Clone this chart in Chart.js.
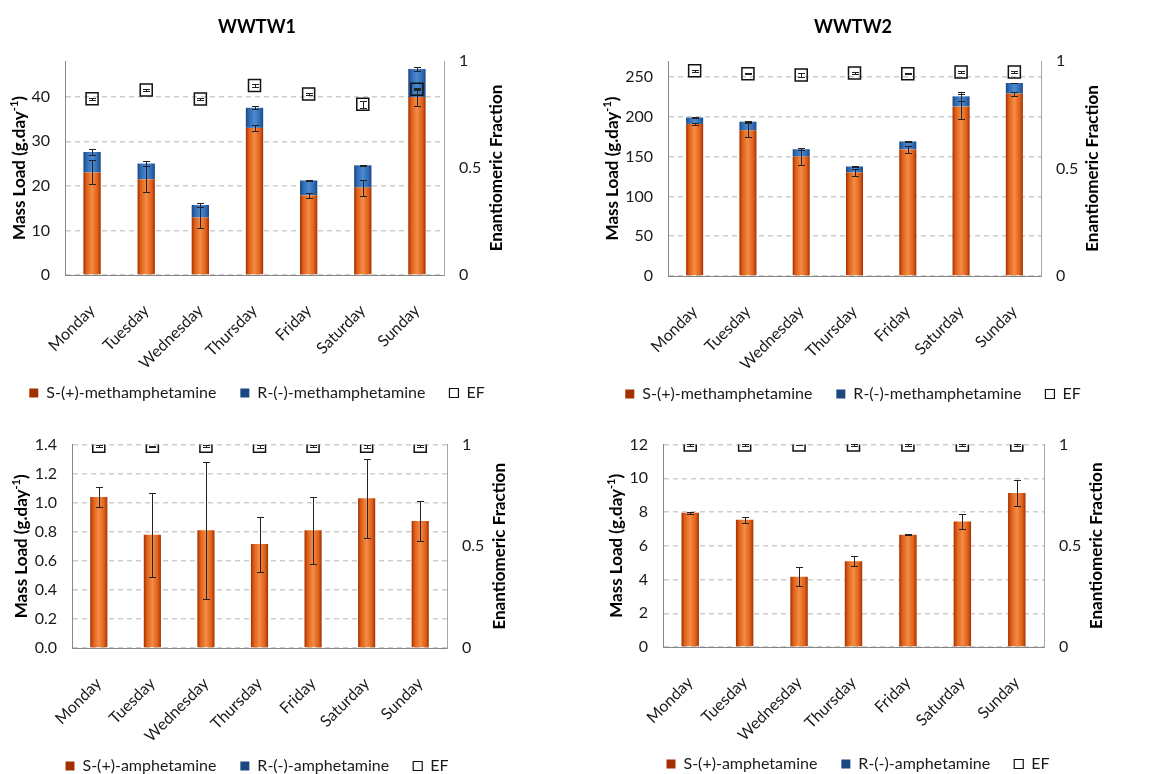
<!DOCTYPE html>
<html>
<head>
<meta charset="utf-8">
<script src="https://cdn.jsdelivr.net/npm/chart.js@4.4.1/dist/chart.umd.min.js"></script>
<style>
  html, body { margin: 0; padding: 0; background: #fff; }
  body { width: 1156px; height: 774px; position: relative; overflow: hidden; }
  canvas { position: absolute; }
</style>
</head>
<body>
<canvas id="c1" width="514" height="412" style="left:0;top:0"></canvas>
<canvas id="c2" width="506" height="412" style="left:600px;top:0"></canvas>
<canvas id="c3" width="514" height="364" style="left:0;top:420px"></canvas>
<canvas id="c4" width="516" height="362" style="left:600px;top:420px"></canvas>
<script>
var days = ['Monday', 'Tuesday', 'Wednesday', 'Thursday', 'Friday', 'Saturday', 'Sunday'];

// WWTW1 methamphetamine, g/day (errors: +/- on S bar and on S+R total)
var meth1S = [23.0, 21.5, 12.9, 33.0, 17.9, 19.6, 39.9];
var meth1R = [4.6, 3.5, 2.8, 4.5, 3.3, 5.0, 6.3];
var meth1SErr = [2.7, 2.9, 2.4, 0.7, 0.6, 1.8, 1.9];
var meth1TotErr = [0.6, 0.6, 0.5, 0.3, 0.1, 0.1, 0.4];
var meth1EF = [0.824, 0.864, 0.822, 0.885, 0.846, 0.798, 0.868];
var meth1EFErr = [0.005, 0.005, 0.005, 0.006, 0.005, 0.017, 0.005];

// WWTW2 methamphetamine
var meth2S = [191, 183, 150, 130, 159, 213, 229];
var meth2R = [8, 10.8, 9.2, 7.5, 10, 12.6, 13.4];
var meth2SErr = [1.5, 8.8, 10.6, 4, 4.4, 16, 2.5];
var meth2TotErr = [0.8, 1, 1, 0.8, 0.6, 5.5, 0.6];
var meth2EF = [0.955, 0.941, 0.935, 0.944, 0.941, 0.949, 0.949];
var meth2EFErr = [0.004, 0.003, 0.008, 0.004, 0.003, 0.004, 0.003];

// WWTW1 amphetamine
var amph1S = [1.04, 0.78, 0.81, 0.715, 0.81, 1.03, 0.875];
var amph1R = [0, 0, 0, 0, 0, 0, 0];
var amph1SErr = [0.07, 0.29, 0.47, 0.19, 0.23, 0.27, 0.14];
var amph1EF = [0.992, 0.992, 0.992, 0.992, 0.992, 0.992, 0.992];
var amph1EFErr = [0.004, 0.003, 0.004, 0.008, 0.004, 0.008, 0.004];

// WWTW2 amphetamine
var amph2S = [7.96, 7.55, 4.17, 5.08, 6.66, 7.44, 9.13];
var amph2R = [0, 0, 0, 0, 0, 0, 0];
var amph2SErr = [0.05, 0.17, 0.55, 0.3, 0.02, 0.45, 0.79];
var amph2EF = [0.998, 0.998, 0.998, 0.998, 0.998, 0.998, 0.998];
var amph2EFErr = [0.003, 0.003, 0.002, 0.003, 0.003, 0.003, 0.003];

var BAR_PCT = 0.32;
var orangeStops = ['#a32f00', '#de5f18', '#f58c45', '#de5f18', '#a32f00'];
var blueStops = ['#1b4783', '#2f69b1', '#4b8bd2', '#2f69b1', '#1b4783'];

Chart.defaults.font.family = 'Lato, "Open Sans", sans-serif';
Chart.defaults.color = '#1a1a1a';

// horizontal shading across each bar, dark at the edges
function barFill(stops, solid) {
  return function(c) {
    if (c.type !== 'data') return solid;
    var chart = c.chart, xs = chart.scales.x;
    var cx = xs.getPixelForValue(c.dataIndex);
    if (!isFinite(cx)) return solid;
    var half = xs.width / days.length * BAR_PCT / 2;
    var g = chart.ctx.createLinearGradient(cx - half, 0, cx + half, 0);
    g.addColorStop(0, stops[0]);
    g.addColorStop(0.18, stops[1]);
    g.addColorStop(0.5, stops[2]);
    g.addColorStop(0.82, stops[3]);
    g.addColorStop(1, stops[4]);
    return g;
  };
}

var errorBars = {
  id: 'errorBars',
  afterDatasetsDraw: function(chart, args, opts) {
    var ctx = chart.ctx;
    ctx.save();
    ctx.strokeStyle = '#222';
    ctx.lineWidth = 1;
    (opts.sets || []).forEach(function(set) {
      var meta = chart.getDatasetMeta(set.dataset);
      var ys = chart.scales[meta.yAxisID];
      meta.data.forEach(function(el, i) {
        var e = set.errors[i];
        if (!e) return;
        var x = Math.round(el.x) + 0.5;
        var top = Math.round(ys.getPixelForValue(set.values[i] + e)) + 0.5;
        var bot = Math.round(ys.getPixelForValue(set.values[i] - e)) + 0.5;
        ctx.beginPath();
        ctx.moveTo(x, top); ctx.lineTo(x, bot);
        ctx.moveTo(x - 3.5, top); ctx.lineTo(x + 3.5, top);
        ctx.moveTo(x - 3.5, bot); ctx.lineTo(x + 3.5, bot);
        ctx.stroke();
      });
    });
    ctx.restore();
  }
};

// the rotated day names hang lower than the x box; give their clip some room
var labelRoom = {
  id: 'labelRoom',
  afterLayout: function(chart) {
    chart.scales.x.bottom += 20;
  }
};

function drawUpright(ctx, x, cy, parts) {
  var total = 0;
  parts.forEach(function(p) { ctx.font = p.font; p.w = ctx.measureText(p.text).width; total += p.w; });
  ctx.save();
  ctx.translate(x, cy);
  ctx.rotate(-Math.PI / 2);
  ctx.textAlign = 'left';
  ctx.textBaseline = 'middle';
  var pos = -total / 2;
  parts.forEach(function(p) {
    ctx.font = p.font;
    ctx.fillText(p.text, pos, p.dy || 0);
    pos += p.w;
  });
  ctx.restore();
}

// both y-axis titles read bottom to top
var axisTitles = {
  id: 'axisTitles',
  afterDraw: function(chart, args, opts) {
    var ctx = chart.ctx, a = chart.chartArea;
    var cy = (a.top + a.bottom) / 2;
    ctx.save();
    ctx.fillStyle = '#000';
    drawUpright(ctx, opts.leftX, cy, [
      { text: 'Mass Load (g.day', font: 'bold 17px Lato' },
      { text: '-1', font: 'bold 11px Lato', dy: -6 },
      { text: ')', font: 'bold 17px Lato' }
    ]);
    drawUpright(ctx, opts.rightX, cy, [{ text: 'Enantiomeric Fraction', font: 'bold 17px Lato' }]);
    ctx.restore();
  }
};

function makePanel(id, p) {
  var total = p.S.map(function(v, i) { return v + p.R[i]; });
  var sets = [{ dataset: 0, values: p.S, errors: p.sErr }];
  if (p.totErr) sets.push({ dataset: 1, values: total, errors: p.totErr });
  sets.push({ dataset: 2, values: p.ef, errors: p.efErr });

  return new Chart(document.getElementById(id), {
    type: 'bar',
    data: {
      labels: days,
      datasets: [{
        label: p.names[0],
        data: p.S,
        backgroundColor: barFill(orangeStops, '#cf5410'),
        borderWidth: 0,
        categoryPercentage: 1,
        barPercentage: BAR_PCT,
        order: 1
      }, {
        label: p.names[1],
        data: p.R,
        backgroundColor: barFill(blueStops, '#2a62a8'),
        borderWidth: 0,
        categoryPercentage: 1,
        barPercentage: BAR_PCT,
        order: 1
      }, {
        type: 'line',
        label: 'EF',
        data: p.ef,
        yAxisID: 'y1',
        showLine: false,
        pointStyle: 'rect',
        pointRadius: 8.5,
        pointBorderWidth: 1.5,
        pointBorderColor: '#111',
        pointBackgroundColor: 'rgba(0,0,0,0)',
        borderColor: '#111',
        backgroundColor: 'rgba(0,0,0,0)',
        borderWidth: 1.2,
        order: 0
      }]
    },
    options: {
      responsive: false,
      animation: false,
      layout: { padding: { top: p.padTop || 0, bottom: p.padBottom || 0 } },
      plugins: {
        title: {
          display: !!p.title,
          text: p.title,
          color: '#000',
          font: { size: 18, weight: 'bold' },
          padding: { top: 16, bottom: 23.4 }
        },
        legend: {
          position: 'bottom',
          labels: {
            boxWidth: 9,
            boxHeight: 9,
            padding: 24,
            color: '#1a1a1a',
            font: { size: 16 },
            sort: function(a, b) { return a.datasetIndex - b.datasetIndex; }
          }
        },
        tooltip: { enabled: false },
        errorBars: { sets: sets },
        axisTitles: { leftX: p.leftTitleX, rightX: p.rightTitleX }
      },
      scales: {
        x: {
          stacked: true,
          grid: { display: false },
          border: { color: '#868686' },
          ticks: { minRotation: 45, maxRotation: 45, padding: 18, font: { size: 16 } },
          afterFit: function(s) { s.height = p.xHeight; }
        },
        y: {
          stacked: true,
          min: 0,
          max: p.yMax,
          grid: { color: '#cdcdcd', lineWidth: 1.5, drawTicks: false },
          border: { color: '#868686', dash: [5, 4] },
          ticks: {
            stepSize: p.yStep,
            includeBounds: false,
            padding: 15,
            font: { size: 16 },
            callback: function(v) { return v.toFixed(p.decimals); }
          },
          afterFit: function(s) { s.width = p.leftW; }
        },
        y1: {
          position: 'right',
          min: 0,
          max: 1,
          grid: { display: false, drawTicks: false },
          border: { color: '#a6a6a6' },
          ticks: {
            stepSize: 0.5,
            padding: 15,
            font: { size: 16 },
            callback: function(v) { return String(Number(v.toFixed(2))); }
          },
          afterFit: function(s) { s.width = p.rightW; }
        }
      }
    },
    plugins: [errorBars, labelRoom, axisTitles]
  });
}

var methNames = ['S-(+)-methamphetamine', 'R-(-)-methamphetamine'];
var amphNames = ['S-(+)-amphetamine', 'R-(-)-amphetamine'];

makePanel('c1', {
  title: 'WWTW1', names: methNames,
  S: meth1S, R: meth1R, sErr: meth1SErr, totErr: meth1TotErr, ef: meth1EF, efErr: meth1EFErr,
  yMax: 48, yStep: 10, decimals: 0,
  leftW: 65, rightW: 70, xHeight: 86, padBottom: 1,
  leftTitleX: 20, rightTitleX: 497
});

makePanel('c2', {
  title: 'WWTW2', names: methNames,
  S: meth2S, R: meth2R, sErr: meth2SErr, totErr: meth2TotErr, ef: meth2EF, efErr: meth2EFErr,
  yMax: 270, yStep: 50, decimals: 0,
  leftW: 68, rightW: 65, xHeight: 86, padBottom: 0,
  leftTitleX: 13, rightTitleX: 493
});

makePanel('c3', {
  names: amphNames,
  S: amph1S, R: amph1R, sErr: amph1SErr, ef: amph1EF, efErr: amph1EFErr,
  yMax: 1.4, yStep: 0.2, decimals: 1,
  leftW: 72, rightW: 67, xHeight: 86, padTop: 17, padBottom: 0,
  leftTitleX: 22, rightTitleX: 500
});

makePanel('c4', {
  names: amphNames,
  S: amph2S, R: amph2R, sErr: amph2SErr, ef: amph2EF, efErr: amph2EFErr,
  yMax: 12, yStep: 2, decimals: 0,
  leftW: 63, rightW: 72, xHeight: 85, padTop: 15, padBottom: 0,
  leftTitleX: 17, rightTitleX: 497
});
</script>
</body>
</html>
